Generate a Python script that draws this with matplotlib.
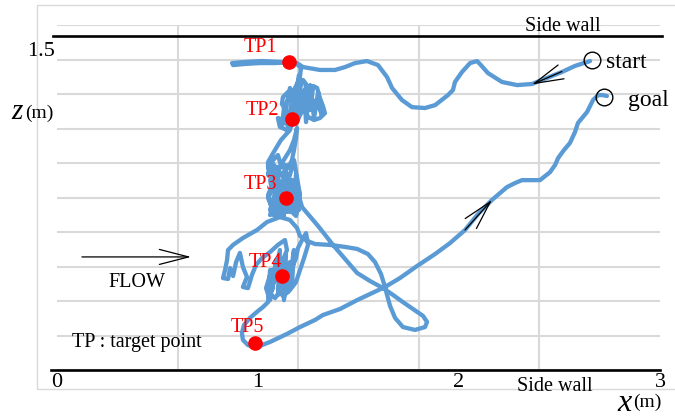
import matplotlib
matplotlib.use('Agg')
import matplotlib.pyplot as plt
import matplotlib.patches as mpatches

# ---------------- data (metres) ----------------
seg1_x = [2.652,2.577,2.512,2.438,2.363,2.289,2.214,2.144,2.109,2.090,2.055,2.015,1.980,1.970,1.945,1.881,1.831,1.766,1.716,1.667,1.642,1.597,1.542,1.483,1.433,1.383,1.308,1.224,1.194,1.154,1.085,1.010,0.935,0.876,0.871,0.935,1.020,1.109,1.189,1.214]
seg1_z = [1.388,1.366,1.339,1.312,1.285,1.280,1.294,1.334,1.370,1.388,1.379,1.339,1.294,1.258,1.235,1.190,1.177,1.181,1.213,1.267,1.316,1.370,1.388,1.379,1.361,1.348,1.348,1.361,1.379,1.384,1.379,1.379,1.375,1.370,1.379,1.384,1.388,1.384,1.379,1.357]

tp2_x = [1.209,1.194,1.174,1.149,1.129,1.124,1.149,1.174,1.184,1.199,1.209,1.224,1.239,1.234,1.249,1.269,1.274,1.294,1.308,1.323,1.333,1.308,1.279,1.249,1.229,1.209,1.189,1.169,1.144,1.119,1.124,1.149,1.169,1.159,1.129,1.099,1.109,1.144]
tp2_z = [1.321,1.285,1.249,1.213,1.177,1.132,1.096,1.123,1.168,1.213,1.267,1.303,1.285,1.235,1.195,1.231,1.276,1.267,1.222,1.186,1.154,1.132,1.123,1.137,1.177,1.145,1.105,1.128,1.159,1.195,1.226,1.249,1.213,1.159,1.123,1.132,1.092,1.078]

tp2b_x = [1.169,1.189,1.204,1.214,1.229,1.239,1.259,1.279,1.299,1.318,1.289,1.259,1.219,1.189,1.159,1.139,1.119,1.149,1.179,1.159]
tp2b_z = [1.101,1.235,1.325,1.168,1.258,1.114,1.280,1.132,1.249,1.146,1.213,1.168,1.222,1.146,1.267,1.177,1.101,1.132,1.190,1.078]

down_x = [1.114,1.090,1.070,1.050,1.050,1.075,1.099,1.114,1.134,1.159,1.179,1.194,1.189,1.179,1.169,1.149]
down_z = [1.033,0.997,0.966,0.934,0.907,0.943,0.966,0.921,0.952,0.988,1.033,1.087,1.042,0.988,0.943,0.907]

tp3b_x = [1.129,1.060,1.070,1.050,1.080,1.100,1.109,1.090,1.129,1.119,1.139,1.159,1.169,1.149,1.179,1.189,1.199,1.169,1.204,1.139,1.109,1.159,1.194,1.124,1.085,1.134]
tp3b_z = [0.921,0.898,0.831,0.786,0.696,0.876,0.764,0.719,0.692,0.831,0.898,0.710,0.854,0.786,0.728,0.876,0.809,0.764,0.719,0.741,0.809,0.831,0.764,0.719,0.764,0.858]

tp3c_x = [1.060,1.050,1.070,1.090,1.060,1.119,1.100,1.149,1.189,1.209,1.179,1.159,1.129,1.100,1.080,1.149]
tp3c_z = [0.943,0.876,0.921,0.809,0.719,0.786,0.692,0.728,0.692,0.786,0.943,0.876,0.809,0.854,0.898,0.921]

tp3_x = [1.119,1.085,1.060,1.070,1.050,1.070,1.060,1.099,1.119,1.139,1.169,1.194,1.174,1.144,1.109,1.090,1.109,1.149,1.184,1.204,1.209,1.189,1.159,1.129,1.159,1.209,1.219]
tp3_z = [0.876,0.889,0.853,0.809,0.773,0.728,0.696,0.710,0.750,0.786,0.818,0.786,0.741,0.710,0.741,0.786,0.831,0.853,0.840,0.800,0.741,0.701,0.719,0.764,0.800,0.764,0.732]

loop_x = [1.299,1.373,1.433,1.493,1.557,1.622,1.672,1.721,1.771,1.821,1.841,1.831,1.781,1.721,1.682,1.657,1.642,1.632,1.612,1.582,1.547,1.493,1.433,1.358,1.284,1.244]
loop_z = [0.647,0.562,0.499,0.436,0.400,0.368,0.337,0.305,0.274,0.243,0.216,0.193,0.180,0.193,0.234,0.288,0.337,0.373,0.431,0.485,0.521,0.544,0.553,0.562,0.566,0.580]

left_x = [1.209,1.194,1.159,1.109,1.045,0.995,0.925,0.876,0.851,0.846,0.836,0.826,0.851,0.861,0.876,0.891,0.910,0.925,0.945,0.925,0.950,0.970,0.990,1.020,1.060]
left_z = [0.602,0.638,0.674,0.687,0.665,0.629,0.593,0.562,0.539,0.494,0.449,0.413,0.409,0.458,0.422,0.485,0.526,0.463,0.418,0.373,0.368,0.427,0.472,0.503,0.530]

tp4_x = [1.099,1.134,1.144,1.124,1.099,1.070,1.050,1.085,1.119,1.149,1.169,1.189,1.199,1.219,1.239,1.249,1.229,1.209,1.189,1.159,1.124,1.099,1.119,1.085,1.060,1.040,1.060]
tp4_z = [0.562,0.584,0.539,0.494,0.449,0.404,0.350,0.323,0.368,0.413,0.458,0.503,0.548,0.584,0.615,0.562,0.503,0.449,0.395,0.359,0.332,0.368,0.422,0.458,0.427,0.368,0.314]

tp4b_x = [1.090,1.070,1.109,1.100,1.139,1.129,1.159,1.149,1.179,1.169,1.109,1.080,1.139,1.060,1.050]
tp4b_z = [0.494,0.359,0.539,0.337,0.517,0.314,0.485,0.350,0.539,0.382,0.427,0.395,0.449,0.449,0.305]

end_x = [1.025,1.000,0.960,0.930,0.920,0.925,0.950,0.985,1.020,1.060,1.144,1.209,1.284,1.323,1.408,1.493,1.557,1.632,1.706,1.791,1.881,1.955,2.030,2.095,2.164,2.239,2.279,2.313,2.353,2.403,2.453,2.478,2.493,2.522,2.552,2.577,2.592,2.617,2.637,2.652,2.667,2.692,2.716,2.736]
end_z = [0.283,0.265,0.234,0.202,0.166,0.135,0.112,0.103,0.112,0.126,0.162,0.193,0.225,0.247,0.274,0.314,0.341,0.373,0.413,0.467,0.521,0.570,0.629,0.701,0.764,0.822,0.840,0.853,0.853,0.853,0.889,0.921,0.952,0.988,1.020,1.069,1.110,1.137,1.159,1.186,1.213,1.235,1.235,1.231]

tp_names = ['TP1', 'TP2', 'TP3', 'TP4', 'TP5']
tp_x = [1.154, 1.169, 1.139, 1.119, 0.985]
tp_z = [1.384, 1.128, 0.773, 0.422, 0.121]
tp_label_x = [1.010, 1.020, 1.010, 1.035, 0.945]
tp_label_z = [1.447, 1.168, 0.833, 0.481, 0.193]

start_pt = (2.662, 1.393)
goal_pt = (2.721, 1.226)
wall_z = [0.0, 1.5]
x_ticks = [0, 1, 2, 3]
x_tick_labels = ['0', '1', '2', '3']
z_ticks = [1.5]
z_tick_labels = ['1.5']

path_x = seg1_x + tp2_x + tp2b_x + down_x + tp3b_x + tp3c_x + tp3_x + loop_x + left_x + tp4_x + tp4b_x + end_x
path_z = seg1_z + tp2_z + tp2b_z + down_z + tp3b_z + tp3c_z + tp3_z + loop_z + left_z + tp4_z + tp4b_z + end_z

# ---------------- figure ----------------
W, H = 675, 417
SERIF = 'Liberation Serif'
plt.rcParams['font.family'] = [SERIF, 'DejaVu Serif']
fig = plt.figure(figsize=(W / 100, H / 100), dpi=100)
fig.patch.set_facecolor('white')

def fp(x, y):
    return (x / W, 1 - y / H)

ax = fig.add_axes([57 / W, (H - 370) / H, 603 / W, 345 / H])
XMAX, ZMAX = 3.0, 1.55
ax.set_xlim(0, XMAX)
ax.set_ylim(0, ZMAX)
for s in ax.spines.values():
    s.set_visible(False)

# gridlines
ax.set_xticks([XMAX * i / 5 for i in range(6)], minor=True)
ax.set_yticks([ZMAX * i / 10 for i in range(11)], minor=True)
ax.grid(which='minor', color='#D9D9D9', lw=1.5)
ax.tick_params(which='both', length=0)
ax.set_axisbelow(True)

ax.set_xticks(x_ticks)
ax.set_xticklabels(x_tick_labels, fontsize=16, family=SERIF)
ax.tick_params(axis='x', pad=2)
ax.set_yticks([])
for zt, zl in zip(z_ticks, z_tick_labels):
    ax.annotate(zl, xy=(0, zt), xytext=(-2, -6), textcoords='offset pixels',
                ha='right', va='top', fontsize=16, family=SERIF, annotation_clip=False)

# outer chart border
fig.patches.append(mpatches.Rectangle(fp(37, 389), 1.0, (389 - 5) / H, transform=fig.transFigure,
                                      fill=False, ec='#D9D9D9', lw=1.0))

# walls
ax.plot([-0.02, 3.01], [wall_z[1], wall_z[1]], color='black', lw=1.9, clip_on=False, zorder=3)
ax.plot([-0.03, 3.0], [wall_z[0], wall_z[0]], color='black', lw=1.9, clip_on=False, zorder=3)

# trajectory
ax.plot(path_x, path_z, color='#5B9BD5', lw=3.1, solid_joinstyle='round', solid_capstyle='round', zorder=4)

# target points
ax.plot(tp_x, tp_z, 'o', color='#FF0000', ms=9.5, zorder=5, mec='#FF0000')
for n, lx, lz in zip(tp_names, tp_label_x, tp_label_z):
    ax.text(lx, lz, n, color='#FF0000', fontsize=14.5, ha='center', va='center', family=SERIF, zorder=6)

# start / goal circles
ax.plot(*start_pt, 'o', mfc='none', mec='black', ms=12, mew=1.0, zorder=6)
ax.plot(*goal_pt, 'o', mfc='none', mec='black', ms=12, mew=1.0, zorder=6)

# arrows
astyle = '->,head_length=1.05,head_width=0.27'
ax.annotate('', xy=(2.363, 1.283), xytext=(2.512, 1.341),
            arrowprops=dict(arrowstyle=astyle, lw=0.9, color='black', shrinkA=0, shrinkB=0, mutation_scale=20), zorder=7)
ax.annotate('', xy=(2.164, 0.764), xytext=(2.030, 0.629),
            arrowprops=dict(arrowstyle=astyle, lw=0.9, color='black', shrinkA=0, shrinkB=0, mutation_scale=20), zorder=7)
ax.annotate('', xy=(0.667, 0.508), xytext=(0.124, 0.508),
            arrowprops=dict(arrowstyle=astyle, lw=0.9, color='black', shrinkA=0, shrinkB=0, mutation_scale=20), zorder=7)

# texts
fig.text(*fp(563, 31), 'Side wall', fontsize=14.5, ha='center', va='baseline', family=SERIF)
fig.text(*fp(555, 391), 'Side wall', fontsize=14.5, ha='center', va='baseline', family=SERIF)
fig.text(*fp(606, 68), 'start', fontsize=17, ha='left', va='baseline', family=SERIF)
fig.text(*fp(628, 106), 'goal', fontsize=17, ha='left', va='baseline', family=SERIF)
fig.text(*fp(137, 287), 'FLOW', fontsize=14.5, ha='center', va='baseline', family=SERIF)
fig.text(*fp(72, 347), 'TP : target point', fontsize=14.5, ha='left', va='baseline', family=SERIF)
fig.text(*fp(23, 119), 'z', fontsize=21, ha='right', va='baseline', family=SERIF, style='italic')
fig.text(*fp(25, 118), '(m)', fontsize=14, ha='left', va='baseline', family=SERIF)
fig.text(*fp(632, 411), 'x', fontsize=23, ha='right', va='baseline', family=SERIF, style='italic')
fig.text(*fp(633, 407), '(m)', fontsize=14, ha='left', va='baseline', family=SERIF)

fig.savefig('out.png', dpi=100, facecolor='white')
